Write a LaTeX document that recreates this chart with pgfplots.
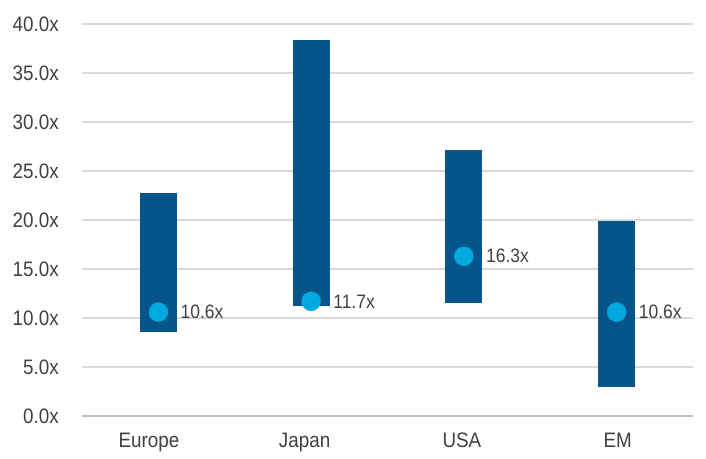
\documentclass[border=0pt]{standalone}
\usepackage{fontspec}
\setmainfont[FakeStretch=0.9]{Liberation Sans}
\usepackage{pgfplots}
\pgfplotsset{compat=1.18}
\definecolor{barblue}{HTML}{05558A}
\definecolor{dotblue}{HTML}{00A9E0}
\definecolor{gridgray}{HTML}{D9D9D9}
\definecolor{axgray}{HTML}{BFBFBF}
\definecolor{txt}{HTML}{404040}
\begin{document}
\begin{tikzpicture}
\useasboundingbox (-82bp,-43bp) rectangle (624bp,416bp);
\begin{axis}[
  scale only axis, width=611bp, height=392bp,
  anchor=south west, at={(0,0)},
  xmin=-0.5, xmax=3.5, ymin=0, ymax=40,
  axis line style={draw=none},
  /pgf/number format/assume math mode=true,
  ytick={5,10,...,40},
  extra y ticks={0},
  extra y tick style={grid style={axgray, line width=2.5bp}},
  yticklabel={\pgfmathprintnumber[fixed,fixed zerofill,precision=1]{\tick}x},
  major tick length=0pt,
  ymajorgrids, grid style={gridgray, line width=1.3bp},
  xtick={0,1,2,3},
  xticklabels={\hspace*{-19bp}Europe,\hspace*{-13bp}Japan,\hspace*{-4bp}USA,\hspace*{2bp}EM},
  tick label style={font=\fontsize{21}{25}\selectfont, text=txt},
  yticklabel style={inner sep=0pt, anchor=east, xshift=-23bp},
  xticklabel style={inner sep=0pt, anchor=north, yshift=-17bp},
  clip=false,
]
\addplot[barblue, line width=37bp, line cap=butt] coordinates {(0,8.6) (0,22.8)};
\addplot[barblue, line width=37bp, line cap=butt] coordinates {(1,11.2) (1,38.4)};
\addplot[barblue, line width=37bp, line cap=butt] coordinates {(2,11.5) (2,27.1)};
\addplot[barblue, line width=37bp, line cap=butt] coordinates {(3,3.0) (3,19.9)};
\addplot[only marks, mark=*, mark size=9.5bp, dotblue,
  nodes near coords={\pgfmathprintnumber[fixed,fixed zerofill,precision=1]{\pgfplotspointmeta}x},
  nodes near coords style={anchor=west, inner sep=0pt, xshift=22bp, text=txt, font=\fontsize{19.5}{23}\selectfont}]
  coordinates {(0,10.6) (1,11.7) (2,16.3) (3,10.6)};
\end{axis}
\end{tikzpicture}
\end{document}
